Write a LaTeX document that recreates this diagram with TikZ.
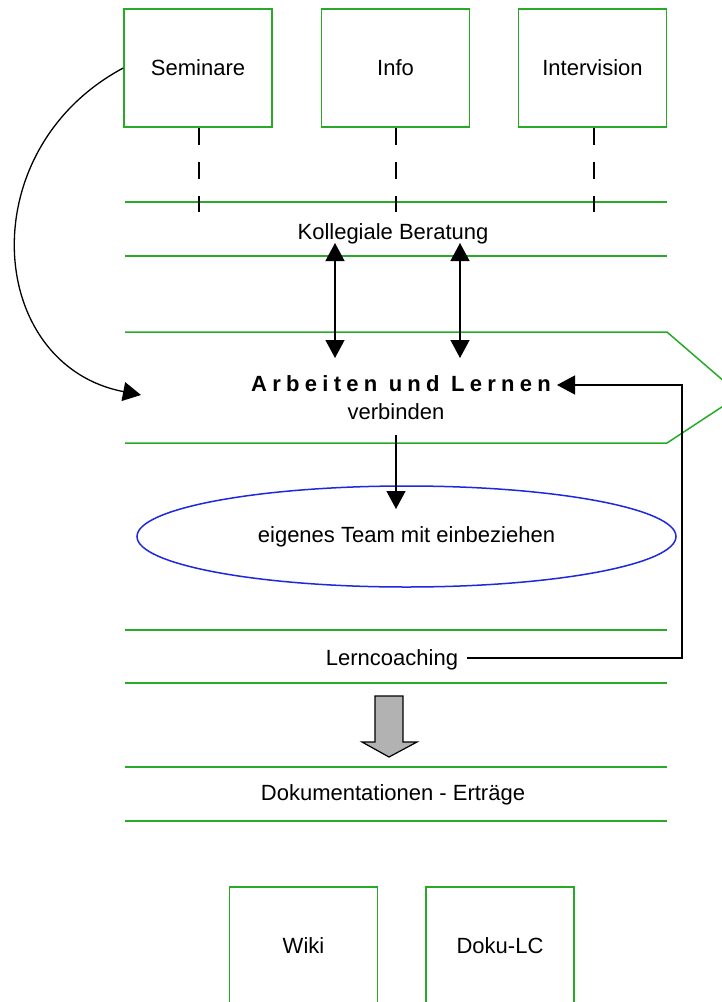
\documentclass[tikz,border=0pt]{standalone}
\usepackage{fontspec}
\setmainfont{Liberation Sans}
\usetikzlibrary{arrows.meta,shapes.geometric}
\definecolor{grn}{RGB}{40,170,40}
\definecolor{blu}{RGB}{30,40,220}
\begin{document}
\begin{tikzpicture}[x=1pt,y=-1pt,
  box/.style={draw=grn,line width=1.5pt,minimum width=148pt,minimum height=118pt,inner sep=0pt,font=\fontsize{22}{26}\selectfont},
  band/.style={draw=grn,line width=1.5pt},
  lbl/.style={inner sep=0pt,anchor=base,font=\fontsize{22}{26}\selectfont},
  conn/.style={draw=black,line width=1.3pt},
  tipend/.style={-{Triangle[length=18pt,width=19pt]}},
  tipboth/.style={{Triangle[length=18pt,width=19pt]}-{Triangle[length=18pt,width=19pt]}},
  vdashed/.style={draw=black,line width=1.3pt,dash pattern=on 17pt off 17pt}
]
\useasboundingbox (0,0) rectangle (722,1002);
\clip (0,0) rectangle (722,1002);

% top boxes
\node[box] (sem) at (198,68) {Seminare};
\node[box] (info) at (395.5,68) {Info};
\node[box] (inter) at (592.5,68) {Intervision};

% Kollegiale Beratung band
\coordinate (kbL1) at (125,202); \coordinate (kbR1) at (667,202);
\coordinate (kbL2) at (125,256); \coordinate (kbR2) at (667,256);
\draw[band] (kbL1) -- (kbR1);
\draw[band] (kbL2) -- (kbR2);
\node[lbl] (koll) at (393,239) {Kollegiale Beratung};

% dashed connectors
\coordinate (d1) at (199,212); \coordinate (d2) at (396,212); \coordinate (d3) at (594,212);
\draw[vdashed] (sem.south -| d1) -- (d1);
\draw[vdashed] (info.south -| d2) -- (d2);
\draw[vdashed] (inter.south -| d3) -- (d3);

% Arbeiten und Lernen band (arrow shape)
\draw[band] (125,332) -- (667,332) -- (740,395) -- (667,443) -- (125,443);
\node[inner sep=0pt,anchor=base,font=\fontsize{22}{26}\selectfont\bfseries\addfontfeatures{LetterSpace=24}] (arb) at (401,391) {Arbeiten und Lernen};
\node[lbl] (verb) at (396,419) {verbinden};

% double arrows
\coordinate (a1t) at (335,243); \coordinate (a1b) at (335,358);
\coordinate (a2t) at (460,243); \coordinate (a2b) at (460,358);
\draw[conn,tipboth] (a1t) -- (a1b);
\draw[conn,tipboth] (a2t) -- (a2b);

% ellipse
\node[draw=blu,line width=1.5pt,ellipse,minimum width=539pt,minimum height=101pt,inner sep=0pt,font=\fontsize{22}{26}\selectfont] (team) at (406.5,536.5) {eigenes Team mit einbeziehen};
\coordinate (vs) at (396,435); \coordinate (ve) at (396,509);
\draw[conn,tipend] (vs) -- (ve);

% curved arrow from Seminare
\coordinate (semend) at (141,395);
\draw[conn,tipend] (sem.west) .. controls (-30,150) and (-14,365) .. (semend);

% Lerncoaching band
\draw[band] (125,630) -- (667,630);
\draw[band] (125,683) -- (667,683);
\node[lbl] (lern) at (392,665) {Lerncoaching};
\coordinate (lernR) at (467,658);
\coordinate (turn) at (682,385);
\coordinate (arbR) at (557,385);
\draw[conn,tipend] (lernR) -| (turn) -- (arbR);

% gray block arrow
\draw[fill=black!30,line width=1.2pt,line join=miter] (375,696) -- (403,696) -- (403,742) -- (417,742) -- (389,757) -- (362,742) -- (375,742) -- cycle;

% Dokumentationen band
\draw[band] (125,767) -- (667,767);
\draw[band] (125,821) -- (667,821);
\node[lbl] (doku) at (393,800) {Dokumentationen - Erträge};

% bottom boxes
\node[box] (wiki) at (303.5,946) {Wiki};
\node[box] (dlc) at (500,946) {Doku-LC};
\end{tikzpicture}
\end{document}
